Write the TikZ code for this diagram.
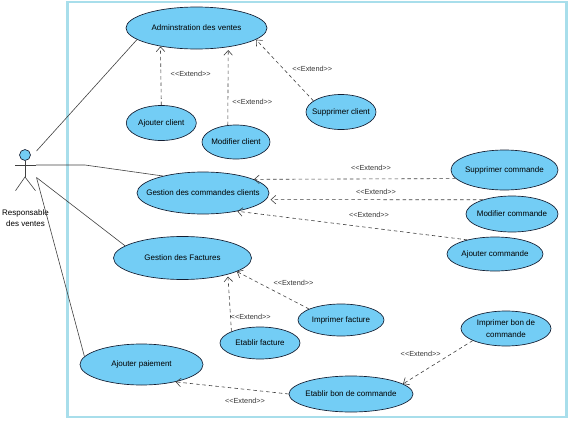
\documentclass[tikz,border=0pt]{standalone}
\usepackage{fontspec}
\setmainfont{Liberation Sans}
\usetikzlibrary{arrows.meta,shapes.geometric}
\definecolor{ucfill}{RGB}{115,205,245}
\definecolor{framecol}{RGB}{168,222,235}
\definecolor{uclinecol}{RGB}{20,30,50}
\tikzset{
  usecase/.style 2 args={ellipse,draw=uclinecol,fill=ucfill,line width=0.5pt,inner sep=-30pt,align=center,font=\fontsize{6}{8.6}\selectfont,minimum width=#1*0.75pt,minimum height=#2*0.75pt},
  assoc/.style={draw=black!75,line width=0.45pt},
  extendline/.style={draw=black!75,line width=0.45pt,dashed,dash pattern=on 2.6pt off 2.2pt,-{Straight Barb[length=3.6pt,width=6.4pt]}},
  extendlabel/.style={font=\fontsize{5.5}{6.5}\selectfont,text=black!80,inner sep=0pt}
}
\begin{document}
\begin{tikzpicture}[x=0.75pt,y=-0.75pt]
\useasboundingbox (0,0) rectangle (569,425);
\draw[framecol,line width=2.2pt] (67.5,2) rectangle (566.5,417);
% use cases
\node[usecase={141}{42}] (admin) at (196.5,28) {Adminstration des ventes};
\node[usecase={70}{35}] (ajoutclient) at (161.3,123) {Ajouter client};
\node[usecase={68}{34}] (modifclient) at (236,142) {Modifier client};
\node[usecase={70}{35}] (suppclient) at (341,112) {Supprimer client};
\node[usecase={132}{42}] (gestcmd) at (203,193) {Gestion des commandes clients};
\node[usecase={107}{40}] (suppcmd) at (504.5,170) {Supprimer commande};
\node[usecase={92}{36}] (modifcmd) at (512,214) {Modifier commande};
\node[usecase={96}{34}] (ajoutcmd) at (495,254) {Ajouter commande};
\node[usecase={138}{43}] (gestfact) at (182.5,258) {Gestion des Factures};
\node[usecase={86}{32}] (impfact) at (341,320) {Imprimer facture};
\node[usecase={80}{32}] (etabfact) at (260,343) {Etablir facture};
\node[usecase={123}{41}] (paiement) at (141.5,364.5) {Ajouter paiement};
\node[usecase={124}{36}] (etabbon) at (351,394) {Etablir bon de commande};
\node[usecase={90}{35}] (impbon) at (506,328.5) {Imprimer bon de\\commande};
% actor
\node[circle,draw=uclinecol,fill=ucfill,line width=0.5pt,inner sep=0pt,minimum size=8.2pt] (acthead) at (25,155) {};
\coordinate (armleft) at (15,165);
\coordinate (armright) at (36,165);
\coordinate (actneck) at (25,165);
\coordinate (acthip) at (25,177);
\coordinate (legleft) at (15.5,190.7);
\coordinate (legright) at (35.5,190.7);
\coordinate (actup) at (36.5,151);
\coordinate (actlow) at (36.5,177.5);
\coordinate (actbend) at (85,165);
\draw[assoc] (acthead)--(acthip);\draw[assoc] (armleft)--(armright);
\draw[assoc] (legleft)--(acthip)--(legright);
\node[font=\fontsize{6}{8.2}\selectfont,align=center,inner sep=0pt] (actname) at (25.5,218) {Responsable\\des ventes};
\draw[assoc] (actup)--(admin.191);
\draw[assoc] (armright)--(actbend)--(gestcmd.157);
\draw[assoc] (actlow)--(gestfact.168.4);
\draw[assoc] (actlow)--(paiement.172.7);
% extends
\draw[extendline] (ajoutclient.north)--(admin.207.5);
\draw[extendline,shorten >=2.2pt] (modifclient.116)--(admin.329.2);
\draw[extendline] (suppclient.158.8)--(admin.349.5);
\draw[extendline] (suppcmd.190.7)--(gestcmd.15.7);
\draw[extendline,shorten >=3.4pt] (modifcmd.154.2)--(gestcmd.354);
\draw[extendline] (ajoutcmd.153.7)--(gestcmd.332.5);
\draw[extendline] (impfact.161.4)--(gestfact.346.7);
\draw[extendline,shorten >=1.5pt] (etabfact.158)--(gestfact.340.5);
\draw[extendline] (etabbon.180)--(paiement.333.4);
\draw[extendline] (impbon.200.8)--(etabbon.11.4);
\node[extendlabel] (extajoutclient) at (190.7,74) {<{}<Extend>{}>};
\node[extendlabel] (extmodifclient) at (252.3,101.7) {<{}<Extend>{}>};
\node[extendlabel] (extsuppclient) at (312.3,69.3) {<{}<Extend>{}>};
\node[extendlabel] (extsuppcmd) at (371,168) {<{}<Extend>{}>};
\node[extendlabel] (extmodifcmd) at (376,192) {<{}<Extend>{}>};
\node[extendlabel] (extajoutcmd) at (369,215) {<{}<Extend>{}>};
\node[extendlabel] (extimpfact) at (293.5,283.3) {<{}<Extend>{}>};
\node[extendlabel] (extetabfact) at (250.7,317.3) {<{}<Extend>{}>};
\node[extendlabel] (extpaiement) at (245,400.7) {<{}<Extend>{}>};
\node[extendlabel] (extimpbon) at (420.7,354) {<{}<Extend>{}>};
\end{tikzpicture}
\end{document}
